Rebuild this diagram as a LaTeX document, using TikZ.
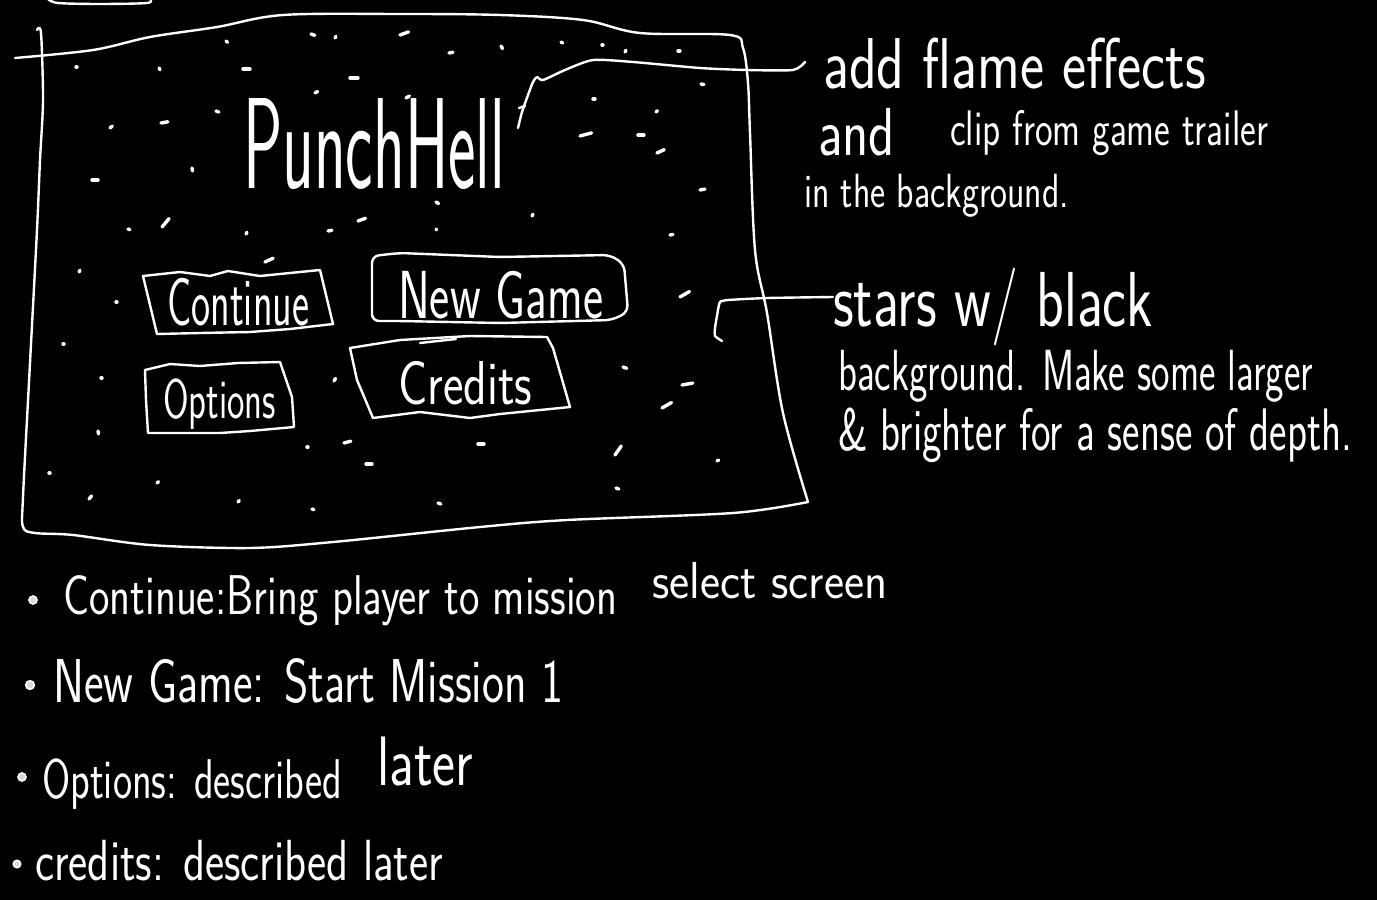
\documentclass[tikz,border=0pt]{standalone}
\usepackage{fontspec}
\usepackage{graphicx}
\newcommand\hw[3]{\fontsize{#1}{#1}\selectfont\resizebox{#2pt}{\height}{#3}}
\begin{document}
\begin{tikzpicture}[x=1pt,y=-1pt,
  ln/.style={white, line width=2.4pt, line cap=round, line join=round},
  starmark/.style={white, line width=3.4pt, line cap=round},
  txt/.style={white, anchor=base west, inner sep=0pt, font=\sffamily},
  dotmark/.style={white, line width=1.6pt, fill=white!85!black}]
\useasboundingbox (0,0) rectangle (1377,900);
\fill[black] (0,0) rectangle (1377,900);

% cut-off stroke at the very top
\draw[ln] plot[smooth] coordinates {(48,-1) (58,3) (100,4) (147,3) (150,-1)};

% screen frame
\draw[ln] plot[smooth, tension=0.55] coordinates {(15,58) (93,50) (150,37) (217,27) (283,15) (400,14) (500,15) (583,20) (640,33) (730,35) (743,48) (748,83) (750,133) (755,250) (767,313) (783,413) (808,502)};
\draw[ln] plot[smooth, tension=0.5] coordinates {(808,502) (733,513) (567,520) (480,527) (333,542) (250,548) (150,545) (73,535) (35,533) (23,527) (23,497) (30,363) (37,230) (40,160) (43,100) (41,33) (37,30)};

% stars
\foreach \x/\y/\a/\l in {
 76/67/0/1, 159/68/60/2, 243/69/0/7, 226/41/40/2, 311/34/20/4, 335/38/-60/2,
 350/78/0/8, 315/93/-30/3, 216/111/20/3, 161/123/-10/7, 110/128/-40/3, 192/168/80/3,
 92/180/0/6, 162/227/-50/11, 128/229/20/2, 246/234/-60/2, 328/231/-10/4, 358/221/-20/8,
 400/35/-20/9, 449/53/-10/4, 501/46/60/3, 561/42/30/2, 625/52/-60/2, 678/51/0/2,
 406/98/-30/4, 593/99/0/2, 701/84/10/3, 656/112/-40/2, 580/136/-15/12, 638/135/0/6,
 657/153/-25/8, 700/190/-10/5, 602/45/0/1, 436/202/30/3, 532/216/-60/2, 436/229/60/1, 670/235/-10/3,
 265/262/-25/9, 79/272/-60/2, 116/302/0/1, 63/344/0/1, 101/378/0/1, 98/431/80/3,
 49/473/0/1, 89/499/-50/4, 157/483/-40/2, 238/502/-50/2, 312/509/20/2, 334/381/-60/3,
 307/447/0/1, 344/443/-15/7, 366/464/0/6,
 680/297/-30/11, 623/367/20/4, 682/385/-10/11, 662/408/-30/11, 478/444/0/6,
 615/455/-55/11, 717/461/-30/2, 616/488/20/3, 438/503/20/3}
 \draw[starmark] (\x,\y) -- ++(\a:\l);

% title
\node[txt] (title) at (243,188) {\fontsize{80}{80}\selectfont\resizebox{262pt}{90pt}{PunchHell}};

% buttons
\draw[ln] (143,276) -- (180,272) -- (210,276) -- (228,271) -- (260,276) -- (320,270) -- (333,324) -- (290,329) -- (250,332) -- (200,333) -- (157,334) -- cycle;
\node[txt] (bcont) at (167,325) {\hw{68}{142}{Continue}};

\draw[ln, rounded corners=7pt] (372,256) -- (400,253) -- (500,257) -- (610,255) -- (624,264) -- (628,312) -- (612,320) -- (500,323) -- (400,321) -- (372,321) -- cycle;
\node[txt] (bnew) at (398,318) {\hw{68}{205}{New Game}};

\draw[ln] (145,370) -- (170,364) -- (200,366) -- (238,363) -- (280,362) -- (292,397) -- (294,427) -- (250,431) -- (220,433) -- (148,433) -- (146,400) -- cycle;
\node[txt] (bopt) at (163,418) {\hw{56}{113}{Options}};

\draw[ln] (350,348) -- (400,340) -- (470,336) -- (547,337) -- (553,348) -- (570,407) -- (500,414) -- (470,418) -- (420,412) -- (373,418) -- (357,380) -- cycle;
\draw[ln] (420,343) -- (456,339);
\node[txt] (bcred) at (398,404) {\hw{62}{134}{Credits}};

% annotation 1
\coordinate (a1s) at (518,128);
\coordinate (a1e) at (805,62);
\draw[ln] plot[smooth, tension=0.4] coordinates {(a1s) (522,112) (528,95) (533,82) (537,77) (543,80) (565,70) (593,60) (633,62) (700,68) (747,70) (793,70) (a1e)};
\draw[ln] (519,108) -- (525,106);
\node[txt] (n1) at (823,88) {\hw{72}{383}{add flame effects}};
\node[txt] (n2) at (818,155) {\hw{68}{77}{and}};
\node[txt] (n3) at (950,145) {\hw{50}{318}{clip from game trailer}};
\node[txt] (n4) at (804,207) {\hw{48}{265}{in the background.}};

% annotation 2
\coordinate (a2s) at (722,341);
\coordinate (a2e) at (833,297);
\draw[ln] plot[smooth, tension=0.3] coordinates {(a2s) (715,336) (715,328) (718,310) (720,302) (728,300) (767,298) (a2e)};
\node[txt] (n5) at (833,326) {\hw{78}{320}{stars w/ black}};
\node[txt] (n6) at (838,390) {\hw{58}{475}{background. Make some larger}};
\node[txt] (n7) at (838,450) {\hw{60}{514}{\& brighter for a sense of depth.}};

% bullet list
\draw[dotmark] (33,600) circle[radius=4];
\node[txt] (l1a) at (63,614) {\hw{56}{554}{Continue:Bring player to mission}};
\node[txt] (l1b) at (652,598) {\hw{52}{235}{select screen}};
\draw[dotmark] (30,685) circle[radius=4.3];
\node[txt] (l2) at (53,702) {\hw{62}{510}{New Game: Start Mission 1}};
\draw[dotmark] (22,777) circle[radius=4];
\node[txt] (l3a) at (42,798) {\hw{56}{300}{Options: described}};
\node[txt] (l3b) at (377,785) {\hw{70}{96}{later}};
\draw[dotmark] (17,864) circle[radius=3.7];
\node[txt] (l4) at (35,880) {\hw{58}{408}{credits: described later}};
\end{tikzpicture}
\end{document}
